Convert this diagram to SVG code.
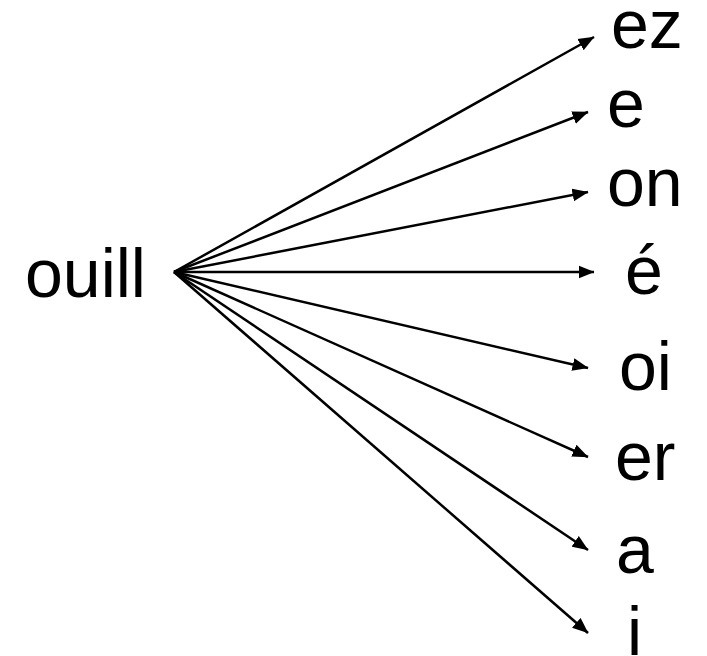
<svg xmlns="http://www.w3.org/2000/svg" width="707" height="656" viewBox="0 0 707 656">
<style>
text{font-family:"Liberation Sans",Arial,sans-serif;font-size:68px;fill:#000}
.c line{stroke:#000;stroke-width:2.5;fill:none;marker-end:url(#ah)}
</style>
<defs>
<marker id="ah" markerUnits="userSpaceOnUse" markerWidth="17" markerHeight="14" refX="15.5" refY="6.5" orient="auto" viewBox="0 0 17 13">
<path d="M0,0 L16,6.5 L0,13 Z" fill="#000"/>
</marker>
</defs>
<rect width="707" height="656" fill="#fff"/>
<g id="n-ouill"><text x="25" y="297">ouill</text></g>
<g id="n-ez"><text x="611" y="48">ez</text></g>
<g id="n-e"><text x="607" y="127">e</text></g>
<g id="n-on"><text x="607" y="206">on</text></g>
<g id="n-eacute"><text x="625" y="294">é</text></g>
<g id="n-oi"><text x="619" y="390">oi</text></g>
<g id="n-er"><text x="615" y="480">er</text></g>
<g id="n-a"><text x="616" y="573">a</text></g>
<g id="n-i"><text x="627" y="655">i</text></g>
<g class="c" id="connectors">
<line x1="174" y1="272" x2="594" y2="37"/>
<line x1="174" y1="272" x2="588" y2="112"/>
<line x1="174" y1="272" x2="588" y2="192"/>
<line x1="174" y1="272" x2="594" y2="272"/>
<line x1="174" y1="272" x2="588" y2="368"/>
<line x1="174" y1="272" x2="588" y2="457"/>
<line x1="174" y1="272" x2="588" y2="550"/>
<line x1="174" y1="272" x2="588" y2="633"/>
</g>
</svg>
